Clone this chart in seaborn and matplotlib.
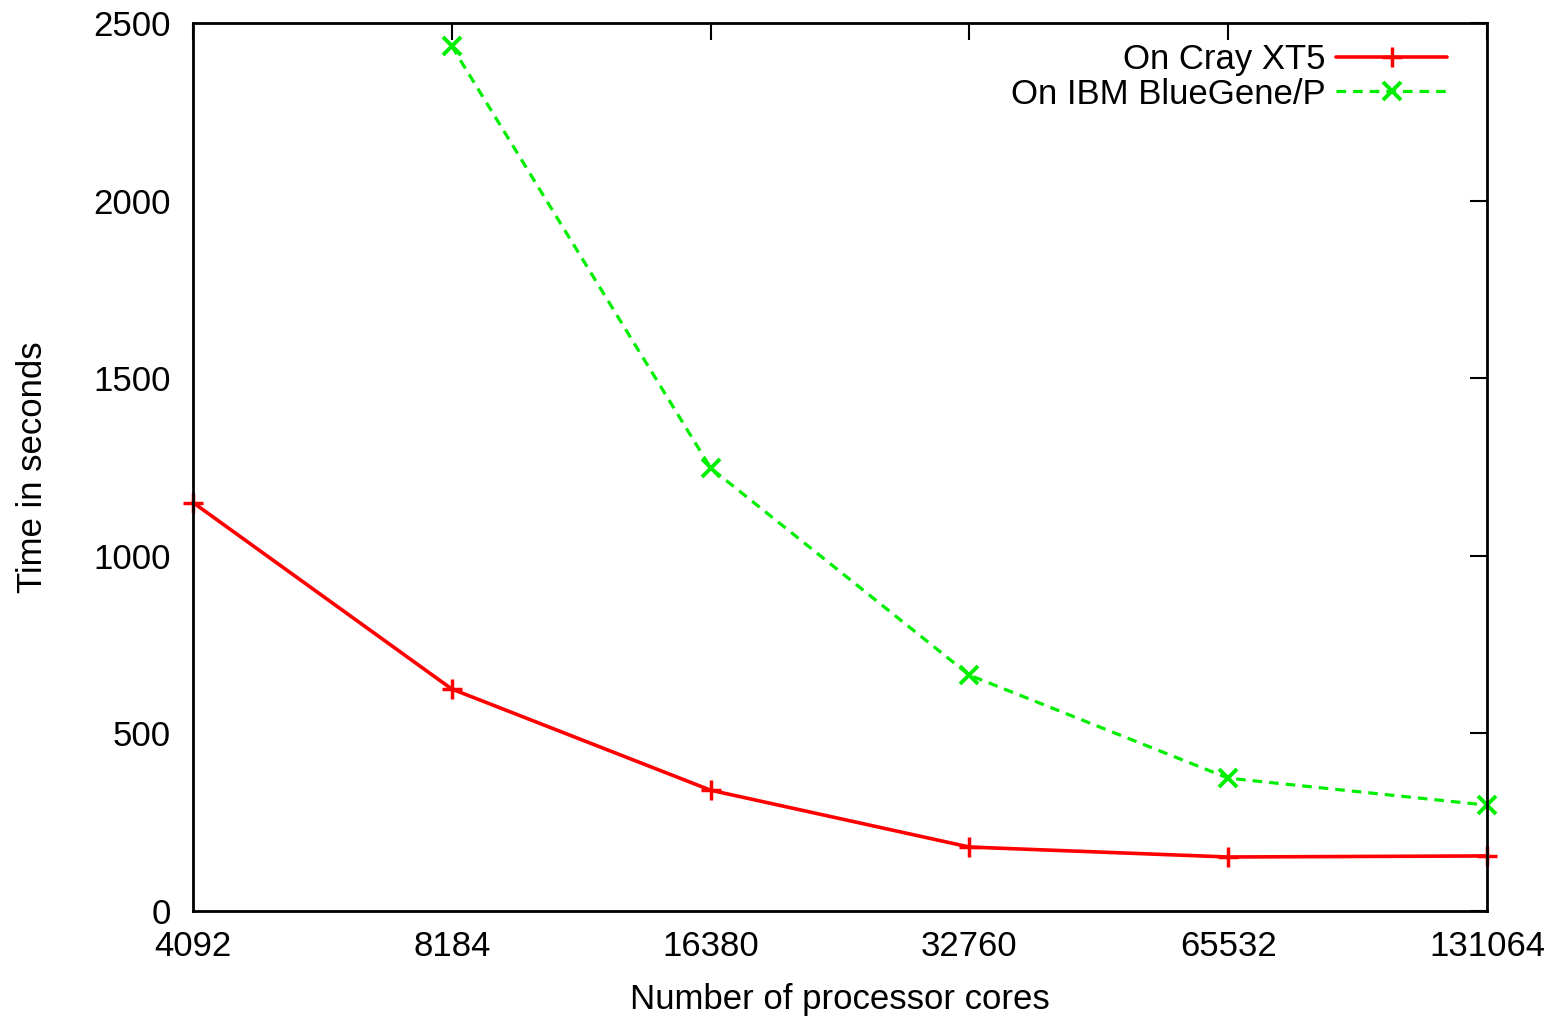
import matplotlib
matplotlib.use("Agg")
import matplotlib.pyplot as plt
import seaborn as sns
import pandas as pd

cores = [4092, 8184, 16380, 32760, 65532, 131064]
cray_time = [1150, 625, 340, 180, 152, 155]
bg_cores = [8184, 16380, 32760, 65532, 131064]
bg_time = [2435, 1247, 664, 374, 298]

sns.set_style("white")
plt.rcParams['font.family'] = ['Liberation Sans', 'DejaVu Sans']
plt.rcParams['text.color'] = 'black'
plt.rcParams['axes.labelcolor'] = 'black'

cray = pd.DataFrame({'cores': cores, 'time': cray_time})
bg = pd.DataFrame({'cores': bg_cores, 'time': bg_time})

fig = plt.figure(figsize=(15.68, 10.19), dpi=100)
ax = fig.add_axes([0.1231, 0.106, 0.8252, 0.8714])

sns.lineplot(ax=ax, data=cray, x='cores', y='time', color='#ff0000', lw=2.6,
             marker='+', markersize=14, markeredgewidth=2.5, markeredgecolor='#ff0000',
             label='On Cray XT5', clip_on=False)
sns.lineplot(ax=ax, data=bg, x='cores', y='time', color='#00ee00', lw=2.3, ls=(0, (3, 2.2)),
             marker='x', markersize=13, markeredgewidth=2.8, markeredgecolor='#00ee00',
             label='On IBM BlueGene/P', clip_on=False)

ax.set_xscale('log', base=2)
ax.set_xlim(4092, 131064)
ax.set_ylim(0, 2500)
ax.set_xticks(cores)
ax.set_xticklabels([str(c) for c in cores])
ax.minorticks_off()
ax.set_yticks([0, 500, 1000, 1500, 2000, 2500])
ax.tick_params(direction='in', length=12, width=1.5, top=True, right=True,
               labelsize=25, colors='black')
ax.tick_params(axis='y', pad=16)
ax.tick_params(axis='x', pad=14)
for s in ax.spines.values():
    s.set_linewidth(2)
    s.set_color('black')
ax.set_xlabel('Number of processor cores', fontsize=25, labelpad=14)
ax.set_ylabel('Time in seconds', fontsize=25, labelpad=32)

ax.legend(loc='upper right', frameon=False, markerfirst=False, fontsize=25,
          handlelength=3.2, handletextpad=0.3, labelspacing=0.05,
          borderaxespad=0.3, bbox_to_anchor=(0.988, 1.005))

fig.savefig('out.png', dpi=100, facecolor='white')
